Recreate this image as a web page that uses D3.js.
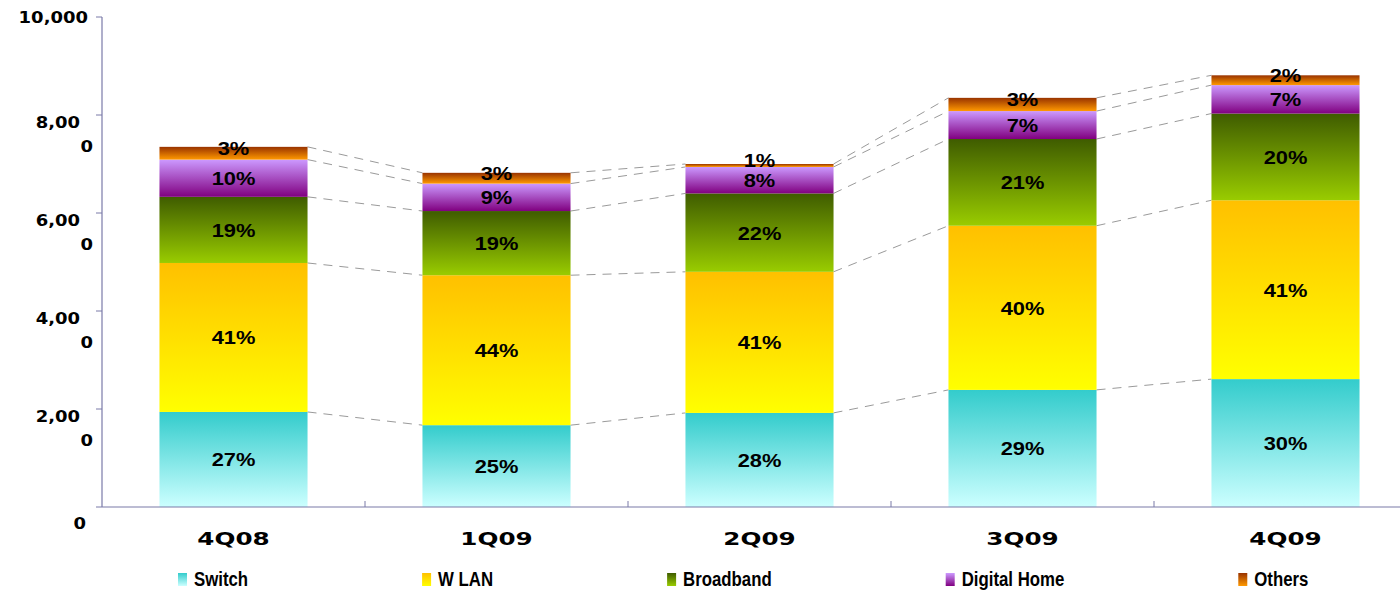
<!DOCTYPE html>
<html>
<head>
<meta charset="utf-8">
<script src="https://cdn.jsdelivr.net/npm/d3@7"></script>
<style>
  body { margin: 0; background: #fff; }
  svg { display: block; }
</style>
</head>
<body>
<svg width="1400" height="590"></svg>
<script>
// Data
var categories = ["4Q08", "1Q09", "2Q09", "3Q09", "4Q09"];
var seriesNames = ["Switch", "W LAN", "Broadband", "Digital Home", "Others"];

var switchVals = [1940, 1670, 1920, 2390, 2610];
var wlanVals = [3040, 3060, 2880, 3350, 3650];
var broadbandVals = [1350, 1310, 1600, 1770, 1770];
var digitalVals = [760, 560, 540, 570, 580];
var othersVals = [260, 220, 60, 270, 200];

var switchPct = ["27%", "25%", "28%", "29%", "30%"];
var wlanPct = ["41%", "44%", "41%", "40%", "41%"];
var broadbandPct = ["19%", "19%", "22%", "21%", "20%"];
var digitalPct = ["10%", "9%", "8%", "7%", "7%"];
var othersPct = ["3%", "3%", "1%", "3%", "2%"];

var yTicks = [0, 2000, 4000, 6000, 8000, 10000];
var yTickLabels = ["0", "2,000", "4,000", "6,000", "8,000", "10,000"];

var seriesVals = [switchVals, wlanVals, broadbandVals, digitalVals, othersVals];
var seriesPct = [switchPct, wlanPct, broadbandPct, digitalPct, othersPct];

// gradient colours (top, bottom)
var grads = [
  ["#33cccc", "#ccffff"],
  ["#ffc000", "#ffff00"],
  ["#3f5c00", "#99cc00"],
  ["#cc99ff", "#800080"],
  ["#993300", "#ff9900"]
];

var svg = d3.select("svg");
var axisColor = "#7a7aa8";

var x = d3.scaleBand()
  .domain(categories)
  .range([102, 1417])
  .paddingInner(0.437)
  .paddingOuter(0.2185);

var y = d3.scaleLinear().domain([0, 10000]).range([507, 17]);

// horizontal stretch of text around its anchor
function stretch(sel, sx) {
  sel.attr("transform", function () {
    var tx = +this.getAttribute("x"), ty = +this.getAttribute("y");
    return "translate(" + tx + "," + ty + ") scale(" + sx + ",1) translate(" + (-tx) + "," + (-ty) + ")";
  });
}

// gradients
var defs = svg.append("defs");
grads.forEach(function (g, i) {
  var lg = defs.append("linearGradient")
    .attr("id", "grad" + i)
    .attr("x1", 0).attr("y1", 0).attr("x2", 0).attr("y2", 1);
  lg.append("stop").attr("offset", "0%").attr("stop-color", g[0]);
  lg.append("stop").attr("offset", "100%").attr("stop-color", g[1]);
});

// stack the data
var rows = categories.map(function (c, j) {
  var r = { cat: c };
  seriesNames.forEach(function (s, i) { r[s] = seriesVals[i][j]; });
  return r;
});
var stacked = d3.stack().keys(seriesNames)(rows);

// dashed connector lines between bars
var conn = svg.append("g");
stacked.forEach(function (layer) {
  for (var j = 0; j < categories.length - 1; j++) {
    conn.append("line")
      .attr("x1", x(categories[j]) + x.bandwidth())
      .attr("y1", y(layer[j][1]))
      .attr("x2", x(categories[j + 1]))
      .attr("y2", y(layer[j + 1][1]))
      .attr("stroke", "#9a9a9a")
      .attr("stroke-width", 1)
      .attr("stroke-dasharray", "9,7");
  }
});

// bars
var bars = svg.append("g");
stacked.forEach(function (layer, i) {
  bars.selectAll(null)
    .data(layer)
    .enter()
    .append("rect")
    .attr("x", function (d) { return x(d.data.cat); })
    .attr("y", function (d) { return y(d[1]); })
    .attr("width", x.bandwidth())
    .attr("height", function (d) { return y(d[0]) - y(d[1]); })
    .attr("fill", "url(#grad" + i + ")");
});

// percent labels
var labels = svg.append("g");
stacked.forEach(function (layer, i) {
  var t = labels.selectAll(null)
    .data(layer)
    .enter()
    .append("text")
    .attr("x", function (d) { return x(d.data.cat) + x.bandwidth() / 2; })
    .attr("y", function (d) {
      var mid = (y(d[0]) + y(d[1])) / 2;
      return (i === 4 ? mid - 5 : mid) + 7;
    })
    .attr("text-anchor", "middle")
    .attr("font-family", "'Liberation Sans', Arimo, Arial, sans-serif")
    .attr("font-weight", "bold")
    .attr("font-size", 19)
    .attr("fill", "#000")
    .text(function (d, j) { return seriesPct[i][j]; });
  stretch(t, 1.15);
});

// axes
var ax = svg.append("g");
ax.append("line")
  .attr("x1", 102).attr("x2", 102)
  .attr("y1", y(10000)).attr("y2", y(0))
  .attr("stroke", axisColor).attr("stroke-width", 1.2);
ax.append("line")
  .attr("x1", 102).attr("x2", 1417)
  .attr("y1", y(0)).attr("y2", y(0))
  .attr("stroke", axisColor).attr("stroke-width", 1.2);

yTicks.forEach(function (v) {
  ax.append("line")
    .attr("x1", 96).attr("x2", 102)
    .attr("y1", y(v)).attr("y2", y(v))
    .attr("stroke", axisColor).attr("stroke-width", 1);
});

for (var k = 1; k < categories.length; k++) {
  var bx = x.range()[0] + k * x.step();
  ax.append("line")
    .attr("x1", bx).attr("x2", bx)
    .attr("y1", y(0)).attr("y2", y(0) - 6)
    .attr("stroke", axisColor).attr("stroke-width", 1);
}

// y tick labels (wrapped like the original)
var yl = svg.append("g")
  .attr("font-family", "'DejaVu Sans', Verdana, sans-serif")
  .attr("font-weight", "bold")
  .attr("font-size", 15)
  .attr("fill", "#000");
yTicks.forEach(function (v, i) {
  var lab = yTickLabels[i];
  var ty = y(v);
  if (v === 0) {
    stretch(yl.append("text").attr("x", 86).attr("y", ty + 22)
      .attr("text-anchor", "end").text(lab), 1.2);
  } else if (lab.length > 5) {
    stretch(yl.append("text").attr("x", 88).attr("y", ty + 6)
      .attr("text-anchor", "end").text(lab), 1.2);
  } else {
    stretch(yl.append("text").attr("x", 80).attr("y", ty + 13)
      .attr("text-anchor", "end").text(lab.slice(0, 4)), 1.2);
    stretch(yl.append("text").attr("x", 93).attr("y", ty + 37)
      .attr("text-anchor", "end").text(lab.slice(4)), 1.2);
  }
});

// x labels
var xl = svg.append("g");
categories.forEach(function (c) {
  var t = xl.append("text")
    .attr("x", x(c) + x.bandwidth() / 2)
    .attr("y", 545)
    .attr("text-anchor", "middle")
    .attr("font-family", "'DejaVu Sans', Verdana, sans-serif")
    .attr("font-weight", "bold")
    .attr("font-size", 17)
    .attr("fill", "#000")
    .text(c);
  stretch(t, 1.45);
});

// legend
var leg = svg.append("g");
var cursor = 178;
var legSx = 0.8;
seriesNames.forEach(function (s, i) {
  leg.append("rect")
    .attr("x", cursor).attr("y", 573)
    .attr("width", 9).attr("height", 13)
    .attr("fill", "url(#grad" + i + ")");
  var t = leg.append("text")
    .attr("x", cursor + 16)
    .attr("y", 586)
    .attr("font-family", "'Liberation Sans', Arimo, Arial, sans-serif")
    .attr("font-weight", "bold")
    .attr("font-size", 21)
    .attr("fill", "#000")
    .text(s);
  stretch(t, legSx);
  var w = t.node().getComputedTextLength() * legSx;
  cursor += 16 + w + 174;
});
</script>
</body>
</html>
